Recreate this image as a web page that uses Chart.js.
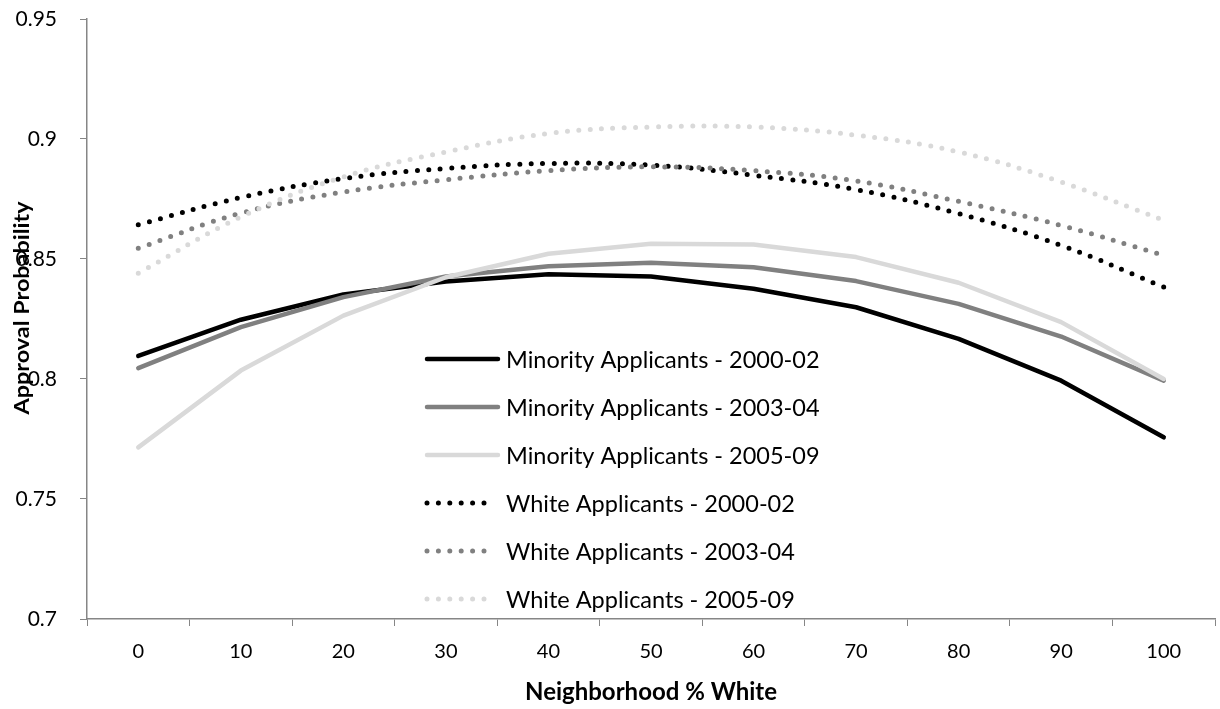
<!DOCTYPE html>
<html>
<head>
<meta charset="utf-8">
<title>Approval Probability</title>
<script src="https://cdn.jsdelivr.net/npm/chart.js@4.4.1/dist/chart.umd.min.js"></script>
<style>
    html, body { margin: 0; padding: 0; background: #fff; }
    #wrap { width: 1220px; height: 709px; position: relative; }
</style>
</head>
<body>
<div id="wrap"><canvas id="chart"></canvas></div>
<script>
// x axis: neighborhood % white
const categories = ['0', '10', '20', '30', '40', '50', '60', '70', '80', '90', '100'];
const yTicks = [0.7, 0.75, 0.8, 0.85, 0.9, 0.95];

// approval probability per group / period
const minority2000 = [0.8096, 0.8247, 0.8352, 0.8406, 0.8436, 0.8427, 0.8376, 0.8299, 0.8167, 0.7993, 0.7757];
const minority2003 = [0.8045, 0.8216, 0.8341, 0.8427, 0.8470, 0.8484, 0.8466, 0.8408, 0.8313, 0.8177, 0.7993];
const minority2005 = [0.7715, 0.8035, 0.8264, 0.8424, 0.8522, 0.8564, 0.8560, 0.8508, 0.8401, 0.8237, 0.8000];
const white2000 = [0.8643, 0.8756, 0.8835, 0.8877, 0.8898, 0.8891, 0.8849, 0.8789, 0.8689, 0.8557, 0.8383];
const white2003 = [0.8545, 0.8691, 0.8779, 0.8830, 0.8868, 0.8884, 0.8868, 0.8825, 0.8740, 0.8640, 0.8515];
const white2005 = [0.8441, 0.8675, 0.8842, 0.8946, 0.9023, 0.9050, 0.9050, 0.9016, 0.8946, 0.8821, 0.8661];

const seriesNames = [
    'Minority Applicants - 2000-02',
    'Minority Applicants - 2003-04',
    'Minority Applicants - 2005-09',
    'White Applicants - 2000-02',
    'White Applicants - 2003-04',
    'White Applicants - 2005-09'
];

const FONT = 'Lato, "Open Sans", sans-serif';
const AXIS = '#868686';
const DOTS = [0, 11.4];

const solid = (label, data, color) => ({
    label, data,
    borderColor: color,
    borderWidth: 4.5,
    borderCapStyle: 'round',
    borderJoinStyle: 'round',
    pointRadius: 0,
    tension: 0,
    fill: false
});

const dotted = (label, data, color) => ({
    label, data,
    borderColor: color,
    borderWidth: 5,
    borderDash: DOTS,
    borderCapStyle: 'round',
    pointRadius: 0,
    tension: 0.4,
    fill: false
});

const datasets = [
    solid(seriesNames[0], minority2000, '#000000'),
    solid(seriesNames[1], minority2003, '#808080'),
    solid(seriesNames[2], minority2005, '#d9d9d9'),
    dotted(seriesNames[3], white2000, '#000000'),
    dotted(seriesNames[4], white2003, '#808080'),
    dotted(seriesNames[5], white2005, '#d9d9d9')
];
// later series sit on top
datasets.forEach((ds, i) => { ds.order = datasets.length - i; });

// legend inside the plot + axis titles
const overlayPlugin = {
    id: 'overlay',
    afterDatasetsDraw(chart) {
        const { ctx, chartArea } = chart;
        const x0 = chartArea.left + 340;
        const x1 = x0 + 71;
        const top = chartArea.top + 340;
        const step = 48;

        ctx.save();
        chart.data.datasets.forEach((ds, i) => {
            const y = top + i * step;
            ctx.strokeStyle = ds.borderColor;
            ctx.lineWidth = ds.borderWidth;
            ctx.lineCap = 'round';
            ctx.setLineDash(ds.borderDash ? DOTS : []);
            ctx.beginPath();
            ctx.moveTo(x0, y);
            ctx.lineTo(ds.borderDash ? x0 + 62 : x1, y);
            ctx.stroke();

            ctx.setLineDash([]);
            ctx.fillStyle = '#000';
            ctx.font = '23.5px ' + FONT;
            ctx.textAlign = 'left';
            ctx.textBaseline = 'middle';
            ctx.fillText(ds.label, x1 + 8, y + 1);
        });

        // axis titles
        ctx.fillStyle = '#000';
        ctx.textAlign = 'center';
        ctx.textBaseline = 'middle';
        ctx.font = 'bold 24px ' + FONT;
        ctx.fillText('Neighborhood % White', (chartArea.left + chartArea.right) / 2, 692);

        ctx.font = 'bold 20px ' + FONT;
        ctx.translate(23, 308);
        ctx.rotate(-Math.PI / 2);
        ctx.scale(1.17, 1);
        ctx.fillText('Approval Probability', 0, 0);
        ctx.restore();
    }
};

new Chart(document.getElementById('chart'), {
    type: 'line',
    data: { labels: categories, datasets },
    plugins: [overlayPlugin],
    options: {
        responsive: true,
        maintainAspectRatio: false,
        animation: false,
        layout: { padding: { top: 19, right: 5, left: 0, bottom: 0 } },
        plugins: {
            legend: { display: false },
            tooltip: { enabled: false }
        },
        scales: {
            x: {
                type: 'category',
                offset: true,
                grid: {
                    offset: true,
                    drawOnChartArea: false,
                    drawTicks: true,
                    tickLength: 7,
                    color: AXIS
                },
                border: { color: AXIS, width: 1.5 },
                ticks: {
                    color: '#000',
                    padding: 14,
                    maxRotation: 0,
                    font: { family: FONT, size: 20 }
                },
                afterFit: (scale) => { scale.height = 90; }
            },
            y: {
                min: yTicks[0],
                max: yTicks[yTicks.length - 1],
                afterBuildTicks: (scale) => { scale.ticks = yTicks.map(v => ({ value: v })); },
                grid: {
                    drawOnChartArea: false,
                    drawTicks: true,
                    tickLength: 7,
                    color: AXIS
                },
                border: { color: AXIS, width: 1.5 },
                ticks: {
                    color: '#000',
                    padding: 23,
                    font: { family: FONT, size: 21 },
                    callback: (v) => String(+Number(v).toFixed(2))
                },
                afterFit: (scale) => {
                    scale.width = 87;
                    // tick padding would otherwise push the plot top down
                    scale.paddingTop = 0;
                    scale.paddingBottom = 0;
                }
            }
        }
    }
});
</script>
</body>
</html>
